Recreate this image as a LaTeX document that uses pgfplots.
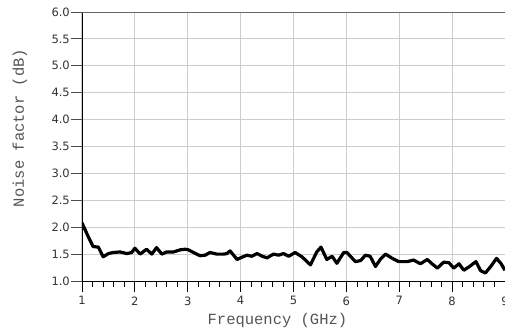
\documentclass[border=0pt]{standalone}
\usepackage{pgfplots}
\pgfplotsset{compat=1.18}
\usepackage{fontspec}
\setmainfont{DejaVu Sans}
\newfontfamily\monofont{Liberation Mono}
\definecolor{gridc}{RGB}{205,205,205}
\definecolor{labc}{RGB}{85,85,85}
\begin{document}
\begin{tikzpicture}
\begin{axis}[
 scale only axis, width=423pt, height=269pt,
 xmin=1, xmax=9, ymin=1, ymax=6,
 axis lines*=left,
 axis line style={black, line width=0.9pt},
 xtick={1,...,9}, ytick={1,1.5,...,6}, minor x tick num=4,
 grid=major, major grid style={gridc, line width=1pt},
 tick align=outside, major tick length=11pt, minor tick length=6pt,
 ytick style={black!70, line width=1pt},
 xtick style={black, line width=0.8pt},
 /pgf/number format/assume math mode=true,
 ticklabel style={font=\fontsize{11.5}{13}\selectfont, text=black!80},
 yticklabel style={inner sep=1pt, /pgf/number format/.cd, fixed, fixed zerofill, precision=1},
 xticklabel style={yshift=-1pt},
 xlabel={Frequency (GHz)}, ylabel={Noise factor (dB)},
 label style={font=\monofont\fontsize{15.5}{18}\selectfont, text=labc},
 xlabel style={at={(axis description cs:0.462,-0.145)}, anchor=center},
 ylabel style={at={(axis description cs:-0.147,0.569)}, anchor=center},
]
\coordinate (sw) at (rel axis cs:0,0);
\coordinate (ne) at (rel axis cs:1,1);
\draw[black!60, line width=1pt] (rel axis cs:0,1) -- (rel axis cs:1,1);
\addplot[black, line width=3.2pt, line join=round] coordinates {
(1.00,2.08) (1.06,1.95) (1.12,1.82) (1.21,1.64) (1.31,1.63) (1.40,1.45)
(1.50,1.51) (1.59,1.53) (1.72,1.54) (1.85,1.51) (1.94,1.53) (2.00,1.61)
(2.10,1.50) (2.22,1.59) (2.32,1.50) (2.41,1.62) (2.51,1.50) (2.60,1.54)
(2.73,1.54) (2.86,1.58) (2.95,1.59) (3.01,1.58) (3.11,1.53) (3.23,1.47)
(3.33,1.48) (3.42,1.53) (3.55,1.50) (3.68,1.50) (3.74,1.51) (3.80,1.56)
(3.90,1.44) (3.93,1.40) (4.02,1.44) (4.12,1.48) (4.21,1.46) (4.31,1.51)
(4.41,1.46) (4.50,1.43) (4.62,1.50) (4.72,1.48) (4.81,1.51) (4.91,1.46)
(5.03,1.53) (5.16,1.45) (5.32,1.30) (5.44,1.54) (5.52,1.63) (5.63,1.40)
(5.73,1.46) (5.82,1.33) (5.95,1.53) (6.01,1.53) (6.17,1.36) (6.27,1.38)
(6.36,1.48) (6.45,1.46) (6.55,1.27) (6.64,1.40) (6.74,1.50) (6.87,1.42)
(6.99,1.36) (7.15,1.36) (7.27,1.39) (7.40,1.32) (7.53,1.40) (7.62,1.32)
(7.72,1.24) (7.84,1.35) (7.94,1.34) (8.03,1.24) (8.13,1.32) (8.22,1.20)
(8.33,1.27) (8.45,1.36) (8.54,1.19) (8.63,1.15) (8.73,1.27) (8.84,1.42)
(8.92,1.33) (9.00,1.20)
};
\end{axis}
\pgfresetboundingbox
\path[use as bounding box] ([xshift=-82pt,yshift=-54pt]sw) rectangle ([yshift=12pt]ne);
\end{tikzpicture}
\end{document}
